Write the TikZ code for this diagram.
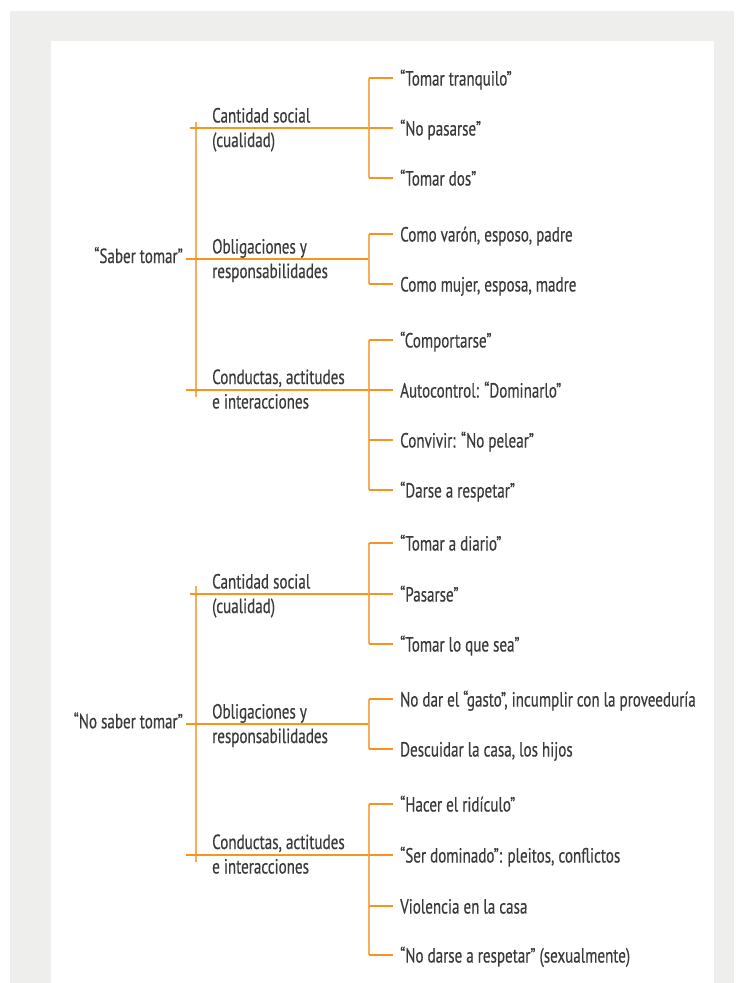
\documentclass[tikz,border=0pt]{standalone}
\usepackage{fontspec}
\setmainfont{PT Sans}[FakeStretch=0.735, FakeBold=0.35]
\definecolor{lineor}{HTML}{F7941D}
\definecolor{linevr}{HTML}{F9AC5A}
\definecolor{txtc}{HTML}{3A3A3B}
\definecolor{bggray}{HTML}{EEEEEC}
\tikzset{
  txt/.style={text=txtc, font=\fontsize{20.5}{24.5}\selectfont, inner sep=0pt},
  leaf/.style={txt, anchor=base west, inner xsep=7pt},
  mid/.style={txt, align=left, anchor=base west},
  rootlbl/.style={txt, anchor=base east, inner xsep=3pt},
  hl/.style={draw=lineor, line width=1.2pt},
  vl/.style={draw=linevr, line width=1.2pt},
}
\begin{document}
\begin{tikzpicture}[x=1pt,y=-1pt]
\useasboundingbox (0,0) rectangle (744,983);
\fill[white] (0,0) rectangle (744,983);
\fill[bggray] (10,11) rectangle (734,983);
\fill[white] (51,41) rectangle (714,983);

% ===== Group 1: Saber tomar =====
\coordinate (a1top) at (196,122);
\coordinate (a1bot) at (196,397);
\draw[vl] (a1top) -- (a1bot);
\node[rootlbl] (a1) at (186,263) {“Saber tomar”};
\node[mid] (a1c) at (212,147) {Cantidad social\\(cualidad)};
\node[mid] (a1o) at (212,278) {Obligaciones y\\responsabilidades};
\node[mid] (a1k) at (212,408.5) {Conductas, actitudes\\e interacciones};
% cantidad
\coordinate (a1cs) at (190,128);
\coordinate (a1cj) at (369,128);
\draw[hl] (a1cs) -- (a1cj);
\node[leaf] (a1c1) at (393,85.5) {“Tomar tranquilo”};
\node[leaf] (a1c2) at (393,135.5) {“No pasarse”};
\node[leaf] (a1c3) at (393,185.5) {“Tomar dos”};
\coordinate (a1cb1) at (369,78);
\coordinate (a1cb3) at (369,178);
\draw[vl] (a1cb1) -- (a1cb3);
\draw[hl] (a1cb1) -- (a1cb1 -| a1c1.west);
\draw[hl] (a1cj) -- (a1cj -| a1c2.west);
\draw[hl] (a1cb3) -- (a1cb3 -| a1c3.west);
% obligaciones
\coordinate (a1oj) at (369,259);
\draw[hl] (a1.east |- a1oj) -- (a1oj);
\node[leaf] (a1o1) at (393,241.5) {Como varón, esposo, padre};
\node[leaf] (a1o2) at (393,291.5) {Como mujer, esposa, madre};
\coordinate (a1ob1) at (369,234);
\coordinate (a1ob2) at (369,284);
\draw[vl] (a1ob1) -- (a1ob2);
\draw[hl] (a1ob1) -- (a1ob1 -| a1o1.west);
\draw[hl] (a1ob2) -- (a1ob2 -| a1o2.west);
% conductas
\coordinate (a1ks) at (186,390);
\coordinate (a1kj) at (369,390);
\draw[hl] (a1ks) -- (a1kj);
\node[leaf] (a1k1) at (393,347.5) {“Comportarse”};
\node[leaf] (a1k2) at (393,397.5) {Autocontrol: “Dominarlo”};
\node[leaf] (a1k3) at (393,447.5) {Convivir: “No pelear”};
\node[leaf] (a1k4) at (393,497.5) {“Darse a respetar”};
\coordinate (a1kb1) at (369,340);
\coordinate (a1kb3) at (369,440);
\coordinate (a1kb4) at (369,490);
\draw[vl] (a1kb1) -- (a1kb4);
\draw[hl] (a1kb1) -- (a1kb1 -| a1k1.west);
\draw[hl] (a1kj) -- (a1kj -| a1k2.west);
\draw[hl] (a1kb3) -- (a1kb3 -| a1k3.west);
\draw[hl] (a1kb4) -- (a1kb4 -| a1k4.west);

% ===== Group 2: No saber tomar =====
\coordinate (a2top) at (196,586);
\coordinate (a2bot) at (196,862);
\draw[vl] (a2top) -- (a2bot);
\node[rootlbl] (a2) at (186,728.3) {“No saber tomar”};
\node[mid] (a2c) at (212,613) {Cantidad social\\(cualidad)};
\node[mid] (a2o) at (212,743) {Obligaciones y\\responsabilidades};
\node[mid] (a2k) at (212,873.5) {Conductas, actitudes\\e interacciones};
% cantidad
\coordinate (a2cs) at (190,594);
\coordinate (a2cj) at (369,594);
\draw[hl] (a2cs) -- (a2cj);
\node[leaf] (a2c1) at (393,550.5) {“Tomar a diario”};
\node[leaf] (a2c2) at (393,601.5) {“Pasarse”};
\node[leaf] (a2c3) at (393,651.5) {“Tomar lo que sea”};
\coordinate (a2cb1) at (369,543);
\coordinate (a2cb3) at (369,644);
\draw[vl] (a2cb1) -- (a2cb3);
\draw[hl] (a2cb1) -- (a2cb1 -| a2c1.west);
\draw[hl] (a2cj) -- (a2cj -| a2c2.west);
\draw[hl] (a2cb3) -- (a2cb3 -| a2c3.west);
% obligaciones
\coordinate (a2oj) at (369,724);
\draw[hl] (a2.east |- a2oj) -- (a2oj);
\node[leaf] (a2o1) at (393,706.5) {No dar el “gasto”, incumplir con la proveeduría};
\node[leaf] (a2o2) at (393,756.5) {Descuidar la casa, los hijos};
\coordinate (a2ob1) at (369,699);
\coordinate (a2ob2) at (369,749);
\draw[vl] (a2ob1) -- (a2ob2);
\draw[hl] (a2ob1) -- (a2ob1 -| a2o1.west);
\draw[hl] (a2ob2) -- (a2ob2 -| a2o2.west);
% conductas
\coordinate (a2ks) at (186,855);
\coordinate (a2kj) at (369,855);
\draw[hl] (a2ks) -- (a2kj);
\node[leaf] (a2k1) at (393,811.5) {“Hacer el ridículo”};
\node[leaf] (a2k2) at (393,862.5) {“Ser dominado”: pleitos, conflictos};
\node[leaf] (a2k3) at (393,913.5) {Violencia en la casa};
\node[leaf] (a2k4) at (393,962.5) {“No darse a respetar” (sexualmente)};
\coordinate (a2kb1) at (369,804);
\coordinate (a2kb3) at (369,906);
\coordinate (a2kb4) at (369,955);
\draw[vl] (a2kb1) -- (a2kb4);
\draw[hl] (a2kb1) -- (a2kb1 -| a2k1.west);
\draw[hl] (a2kj) -- (a2kj -| a2k2.west);
\draw[hl] (a2kb3) -- (a2kb3 -| a2k3.west);
\draw[hl] (a2kb4) -- (a2kb4 -| a2k4.west);
\end{tikzpicture}
\end{document}
